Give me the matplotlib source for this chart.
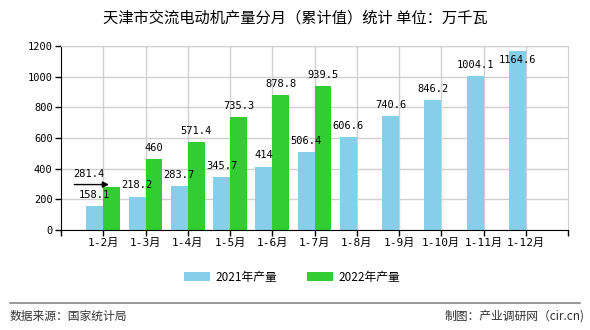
import numpy as np
import matplotlib.pyplot as plt

# 天津市交流电动机产量分月（累计值）
months = ['1-2月', '1-3月', '1-4月', '1-5月', '1-6月', '1-7月',
          '1-8月', '1-9月', '1-10月', '1-11月', '1-12月']
prod_2021 = [158.1, 218.2, 283.7, 345.7, 414, 506.4, 606.6, 740.6, 846.2, 1004.1, 1164.6]
prod_2022 = [281.4, 460, 571.4, 735.3, 878.8, 939.5]

MONO = ['DejaVu Sans Mono', 'Noto Sans CJK SC']
plt.rcParams['font.family'] = ['Noto Sans CJK SC', 'DejaVu Sans']

fig = plt.figure(figsize=(5.9, 3.3), dpi=100)
ax = fig.add_axes([61 / 590, 1 - 230 / 330, 507 / 590, 184 / 330])

w = 0.4
x = np.arange(len(months))
x22 = np.arange(len(prod_2022))
ax.bar(x - w / 2, prod_2021, width=w, color='#87CEEB', label='2021年产量', zorder=2)
ax.bar(x22 + w / 2, prod_2022, width=w, color='#33CC33', label='2022年产量', zorder=2)

YMAX = 1200
for xi, v in zip(x, prod_2021):
    # labels that would leave the plot go just under the bar top
    dy = 8 if v < YMAX - 80 else -6
    ax.annotate(f'{v:g}', (xi - w / 2, v), xytext=(0, dy), textcoords='offset points',
                ha='center', va='center', fontsize=7.5, family=MONO, zorder=3)
for xi, v in zip(x22, prod_2022):
    if xi == 0:
        # first label was pushed left, with a pointer to the bar
        ax.annotate('', xy=(xi + w / 2, v + 15), xytext=(xi - 0.75, v + 15),
                    arrowprops=dict(arrowstyle='-|>', color='black', lw=1,
                                    mutation_scale=9), zorder=3)
        ax.annotate(f'{v:g}', (xi - 0.35, v), xytext=(0, 9), textcoords='offset points',
                    ha='center', va='center', fontsize=7.5, family=MONO, zorder=3)
        continue
    ax.annotate(f'{v:g}', (xi + w / 2, v), xytext=(0, 8), textcoords='offset points',
                ha='center', va='center', fontsize=7.5, family=MONO, zorder=3)

ax.set_xlim(-1, len(months))
ax.set_ylim(0, YMAX)
ax.set_xticks(x)
ax.set_xticklabels(months, family=MONO, fontsize=8)
ax.set_xticks([-1, len(months)], minor=True)
ax.set_yticks(np.arange(0, YMAX + 1, 200))
ax.set_yticklabels([str(t) for t in range(0, YMAX + 1, 200)], family=MONO, fontsize=7.5)
ax.tick_params(axis='both', which='both', length=4, width=1, color='black', pad=2)
ax.grid(True, color='#d0d0d0', lw=1, zorder=0)
for s in ['top', 'right']:
    ax.spines[s].set_color('#d0d0d0')
for s in ['left', 'bottom']:
    ax.spines[s].set_color('black')

fig.text(0.5, 1 - 18 / 330, '天津市交流电动机产量分月（累计值）统计 单位：万千瓦',
         ha='center', va='center', fontsize=11)
fig.legend(loc='center', bbox_to_anchor=(292 / 590, 1 - 277 / 330), ncol=2, frameon=False,
           fontsize=8.5, handlelength=2.2, handleheight=0.9, columnspacing=2.5, handletextpad=0.5)
fig.add_artist(plt.Line2D([10 / 590, 580 / 590], [1 - 303 / 330] * 2, color='#888888', lw=1.2))
fig.text(10 / 590, 1 - 316 / 330, '数据来源：国家统计局', ha='left', va='center',
         fontsize=8.5, color='#333333')
fig.text(585 / 590, 1 - 316 / 330, '制图：产业调研网（cir.cn)', ha='right', va='center',
         fontsize=8.5, color='#333333')

fig.savefig('out.png', dpi=100)
